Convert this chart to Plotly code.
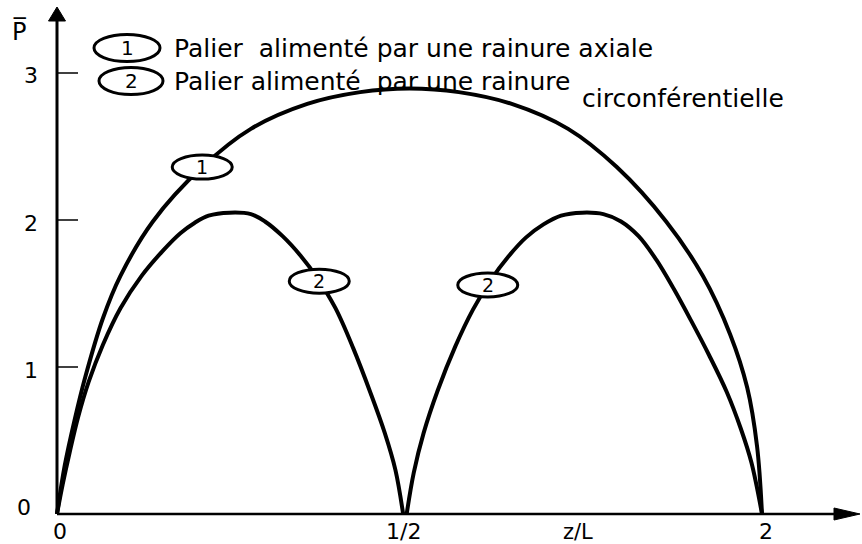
import numpy as np
import plotly.graph_objects as go

# ---- data: dimensionless pressure P̄ along the bearing length z/L ----
# (1) bearing fed through an axial groove: a single arch
Z_AXIAL = [0.0, 0.011, 0.025, 0.040, 0.065, 0.090, 0.136, 0.206, 0.275, 0.355, 0.430,
           0.500, 0.570, 0.645, 0.725, 0.794, 0.864, 0.916, 0.955, 0.979, 0.993, 1.0]
P_AXIAL = [0.0, 0.33, 0.64, 0.93, 1.33, 1.62, 1.99, 2.36, 2.62, 2.79, 2.87,
           2.895, 2.87, 2.79, 2.62, 2.36, 1.99, 1.62, 1.22, 0.86, 0.46, 0.0]

# (2) bearing fed through a circumferential groove: two arches, zero at the groove
Z_CIRC_LEFT = [0.0, 0.008, 0.018, 0.030, 0.045, 0.065, 0.090, 0.120, 0.150, 0.175, 0.195,
               0.215, 0.245, 0.275, 0.295, 0.320, 0.345, 0.370, 0.395, 0.420, 0.445,
               0.465, 0.480, 0.491]
P_CIRC_LEFT = [0.0, 0.20, 0.42, 0.66, 0.90, 1.15, 1.40, 1.62, 1.79, 1.91, 1.98,
               2.03, 2.05, 2.04, 1.99, 1.89, 1.76, 1.60, 1.40, 1.13, 0.82,
               0.55, 0.30, 0.0]
Z_CIRC_RIGHT = [0.496, 0.506, 0.520, 0.540, 0.565, 0.590, 0.615, 0.640, 0.665, 0.690,
                0.715, 0.745, 0.775, 0.800, 0.825, 0.850, 0.875, 0.900, 0.925, 0.950,
                0.970, 0.985, 1.0]
P_CIRC_RIGHT = [0.0, 0.28, 0.55, 0.84, 1.14, 1.39, 1.59, 1.75, 1.88, 1.97,
                2.03, 2.05, 2.04, 1.99, 1.89, 1.73, 1.53, 1.31, 1.08, 0.83,
                0.58, 0.35, 0.0]

# curve tags placed along each curve
TAG_AXIAL_Z = [0.206]
TAG_CIRC_Z = [0.372, 0.611]

Y_TICKS = [0, 1, 2, 3]
X_TICK_VALS = [0.0, 0.491, 1.0]
X_TICK_TEXT = ["0", "1/2", "2"]
X_TITLE = "z/L"
Y_TITLE = "P\u0305"
LEGEND_LINES = ["Palier  alimenté par une rainure axiale",
                "Palier alimenté  par une rainure",
                "circonférentielle"]

# ---- page geometry (pixels) ----
W, H = 862, 544
X0PX, Y0PX = 57, 514          # pixel position of the origin
XUNIT, YUNIT = 705, 147       # pixels per unit of z/L and of P̄
PL, PR, PT, PB = 45, 861, 3, 526   # plot area edges
FONT = "DejaVu Sans"


def zx(px):
    return (px - X0PX) / XUNIT


def py_(py):
    return (Y0PX - py) / YUNIT


def paper_x(px):
    return (px - PL) / (PR - PL)


def paper_y(py):
    return (PB - py) / (PB - PT)


def text(t, px, py, size, xanchor="center", yanchor="middle"):
    return dict(text=t, xref="paper", yref="paper", x=paper_x(px), y=paper_y(py),
                xanchor=xanchor, yanchor=yanchor, showarrow=False,
                font=dict(family=FONT, size=size, color="black"))


fig = go.Figure()
curve = dict(color="black", width=4, shape="spline", smoothing=1.0)
fig.add_trace(go.Scatter(x=Z_AXIAL, y=P_AXIAL, mode="lines", line=curve, hoverinfo="skip"))
fig.add_trace(go.Scatter(x=Z_CIRC_LEFT, y=P_CIRC_LEFT, mode="lines", line=curve, hoverinfo="skip"))
fig.add_trace(go.Scatter(x=Z_CIRC_RIGHT, y=P_CIRC_RIGHT, mode="lines", line=curve, hoverinfo="skip"))

shapes = []
annotations = []

# axes with arrow heads
shapes.append(dict(type="line", xref="x", yref="y", x0=0, y0=0, x1=zx(838), y1=0,
                   line=dict(color="black", width=2.5)))
shapes.append(dict(type="line", xref="x", yref="y", x0=0, y0=0, x1=0, y1=py_(20),
                   line=dict(color="black", width=3)))
shapes.append(dict(type="path", xref="x", yref="y", fillcolor="black",
                   line=dict(color="black", width=1),
                   path=f"M {zx(860)},0 L {zx(834)},{py_(Y0PX - 6)} L {zx(834)},{py_(Y0PX + 6)} Z"))
shapes.append(dict(type="path", xref="x", yref="y", fillcolor="black",
                   line=dict(color="black", width=1),
                   path=f"M 0,{py_(7)} L {zx(X0PX - 8.5)},{py_(21)} L {zx(X0PX + 8.5)},{py_(21)} Z"))

# inside tick marks on the P̄ axis and their labels
for v in Y_TICKS:
    if v > 0:
        shapes.append(dict(type="line", xref="x", yref="y", x0=0, y0=v, x1=zx(78), y1=v,
                           line=dict(color="black", width=1.5)))
    py = Y0PX - v * YUNIT
    if v == 0:
        annotations.append(text(str(v), 24, py - 7, 22))
    else:
        annotations.append(text(str(v), 40, py + 3, 22, xanchor="right"))

# labels under the z/L axis
for v, t in zip(X_TICK_VALS, X_TICK_TEXT):
    annotations.append(dict(text=t, xref="x", yref="paper", x=v, y=paper_y(531),
                            xanchor="center", yanchor="middle", showarrow=False,
                            xshift=4 if t == "2" else (3 if t == "0" else 0),
                            font=dict(family=FONT, size=22, color="black")))
annotations.append(text(X_TITLE, 578, 532, 21))
annotations.append(text(Y_TITLE, 19, 32, 24))


def tag(label, cz, cp, half_w_px, half_h_px, size):
    hw, hh = half_w_px / XUNIT, half_h_px / YUNIT
    shapes.append(dict(type="circle", xref="x", yref="y", x0=cz - hw, x1=cz + hw,
                       y0=cp - hh, y1=cp + hh, fillcolor="white",
                       line=dict(color="black", width=3), layer="above"))
    annotations.append(dict(text=label, xref="x", yref="y", x=cz, y=cp, showarrow=False,
                            xanchor="center", yanchor="middle",
                            font=dict(family=FONT, size=size, color="black")))


for z in TAG_AXIAL_Z:
    tag("1", z, float(np.interp(z, Z_AXIAL, P_AXIAL)), 30, 12, 19)
z_circ = Z_CIRC_LEFT + Z_CIRC_RIGHT
p_circ = P_CIRC_LEFT + P_CIRC_RIGHT
for z in TAG_CIRC_Z:
    tag("2", z, float(np.interp(z, z_circ, p_circ)), 30, 12, 19)

# key in the upper part of the plot
tag("1", zx(127), py_(48), 33, 13.5, 20)
tag("2", zx(131), py_(81), 32, 13.5, 20)
annotations.append(text(LEGEND_LINES[0], 172, 48, 25, xanchor="left"))
annotations.append(text(LEGEND_LINES[1], 172, 81, 25, xanchor="left"))
annotations.append(text(LEGEND_LINES[2], 580, 98, 25, xanchor="left"))

fig.update_layout(
    width=W, height=H,
    margin=dict(l=PL, r=W - PR, t=PT, b=H - PB, pad=0),
    paper_bgcolor="white", plot_bgcolor="white",
    showlegend=False,
    xaxis=dict(range=[zx(PL), zx(PR)], visible=False, fixedrange=True),
    yaxis=dict(range=[py_(PB), py_(PT)], visible=False, fixedrange=True),
    shapes=shapes, annotations=annotations,
)

fig.write_html("out.html", config={"displayModeBar": False})
